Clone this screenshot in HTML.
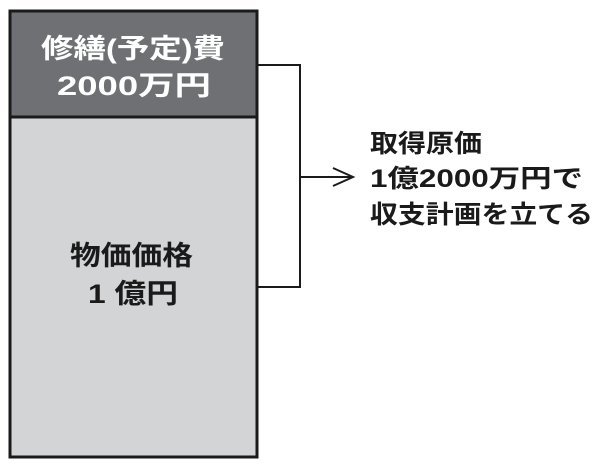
<!DOCTYPE html>
<html><head><meta charset="utf-8"><style>
html,body{margin:0;padding:0;background:#fff;width:600px;height:470px;overflow:hidden}
svg text{font-family:"Liberation Sans","Noto Sans CJK JP",sans-serif;font-weight:bold}
</style></head><body>
<svg width="600" height="470" viewBox="0 0 600 470">
<rect x="10" y="11" width="247" height="106" fill="#6f7073"/>
<rect x="10" y="117" width="247" height="340" fill="#d3d4d6"/>
<rect x="10" y="11" width="247" height="446" fill="none" stroke="#1a1a1a" stroke-width="3"/>
<line x1="10" y1="117" x2="257" y2="117" stroke="#1a1a1a" stroke-width="3"/>
<text x="41" y="58" font-size="27" fill="#fff" textLength="184" lengthAdjust="spacingAndGlyphs">修繕(予定)費</text>
<text x="57" y="95" font-size="27" fill="#fff" textLength="154" lengthAdjust="spacingAndGlyphs">2000万円</text>
<text x="70" y="265" font-size="27" fill="#1a1a1a" textLength="123" lengthAdjust="spacingAndGlyphs">物価価格</text>
<text x="88" y="303" font-size="27" fill="#1a1a1a" textLength="90" lengthAdjust="spacingAndGlyphs">1 億円</text>
<polyline points="257,65 300,65 300,287 257,287" fill="none" stroke="#1a1a1a" stroke-width="2"/>
<line x1="300" y1="177" x2="352" y2="177" stroke="#1a1a1a" stroke-width="2"/>
<polyline points="333,168 353,177 333,186" fill="none" stroke="#1a1a1a" stroke-width="2"/>
<text x="370" y="152" font-size="25" fill="#1a1a1a" textLength="112" lengthAdjust="spacingAndGlyphs">取得原価</text>
<text x="370" y="187" font-size="25" fill="#1a1a1a" textLength="213" lengthAdjust="spacingAndGlyphs">1億2000万円で</text>
<text x="370" y="223" font-size="25" fill="#1a1a1a" textLength="223" lengthAdjust="spacingAndGlyphs">収支計画を立てる</text>
</svg>
</body></html>
